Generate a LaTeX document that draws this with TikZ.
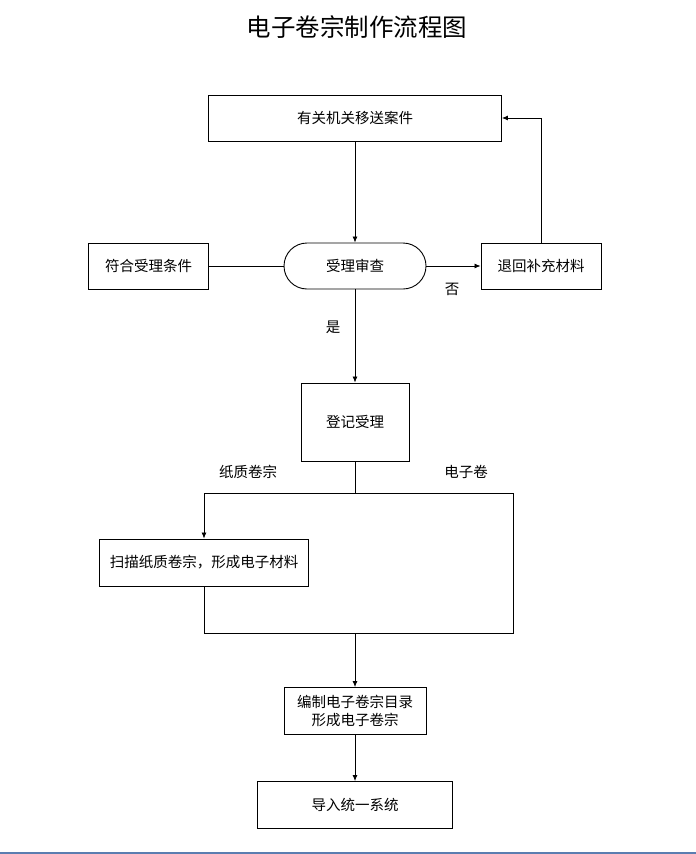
\documentclass[tikz,border=0pt]{standalone}
\usepackage{fontspec}
\newfontfamily\cjk{Noto Sans CJK SC}
\usetikzlibrary{arrows.meta}
\definecolor{lineblue}{HTML}{5B7DB0}
\begin{document}
\begin{tikzpicture}[x=1pt,y=-1pt,
  every node/.style={font=\cjk\fontsize{14.5}{18}\selectfont},
  box/.style={draw,line width=0.9pt,inner sep=0pt,align=center},
  conn/.style={line width=0.8pt},
  arr/.style={conn,-{Latex[length=6pt,width=5pt]}},
  lbl/.style={inner sep=0pt}]
\useasboundingbox (0,0) rectangle (696,854);
\node[lbl,font=\cjk\fontsize{24.5}{28}\selectfont] (title) at (357,27) {电子卷宗制作流程图};
\node[box,minimum width=293pt,minimum height=46pt] (b1) at (355,118) {有关机关移送案件};
\node[box,minimum width=120pt,minimum height=46pt] (fh) at (148.5,266) {符合受理条件};
\node[box,minimum width=142pt,minimum height=46pt,rounded corners=23pt] (sc) at (355,266) {受理审查};
\node[box,minimum width=120pt,minimum height=46pt] (th) at (541,266) {退回补充材料};
\node[box,minimum width=108pt,minimum height=78pt] (dj) at (355,422) {登记受理};
\node[box,minimum width=209pt,minimum height=47pt] (sm) at (204,562.5) {扫描纸质卷宗，形成电子材料};
\node[box,minimum width=142pt,minimum height=47pt] (bz) at (355,711) {编制电子卷宗目录\\形成电子卷宗};
\node[box,minimum width=195pt,minimum height=47pt] (dr) at (355,805) {导入统一系统};
\node[lbl] (no) at (452,289) {否};
\node[lbl] (yes) at (333,327) {是};
\node[lbl] (zz) at (248,472) {纸质卷宗};
\node[lbl] (dz) at (466,472) {电子卷};
\coordinate (j1) at (355,493);
\coordinate (rt) at (513,493);
\coordinate (rb) at (513,633);
\coordinate (lb) at (204,633);
\coordinate (jb) at (355,633);
\draw[arr] (b1) -- (sc);
\draw[conn] (fh) -- (sc);
\draw[arr] (sc) -- (th);
\draw[arr] (th.north) |- (b1.east);
\draw[arr] (sc) -- (dj);
\draw[conn] (dj) -- (j1);
\draw[arr] (j1) -| (sm.north);
\draw[conn] (j1) -- (rt) -- (rb) -- (lb);
\draw[conn] (sm.south) -- (lb);
\draw[arr] (jb) -- (bz);
\draw[arr] (bz) -- (dr);
\draw[lineblue,line width=1.5pt] (0,853) -- (696,853);
\end{tikzpicture}
\end{document}
